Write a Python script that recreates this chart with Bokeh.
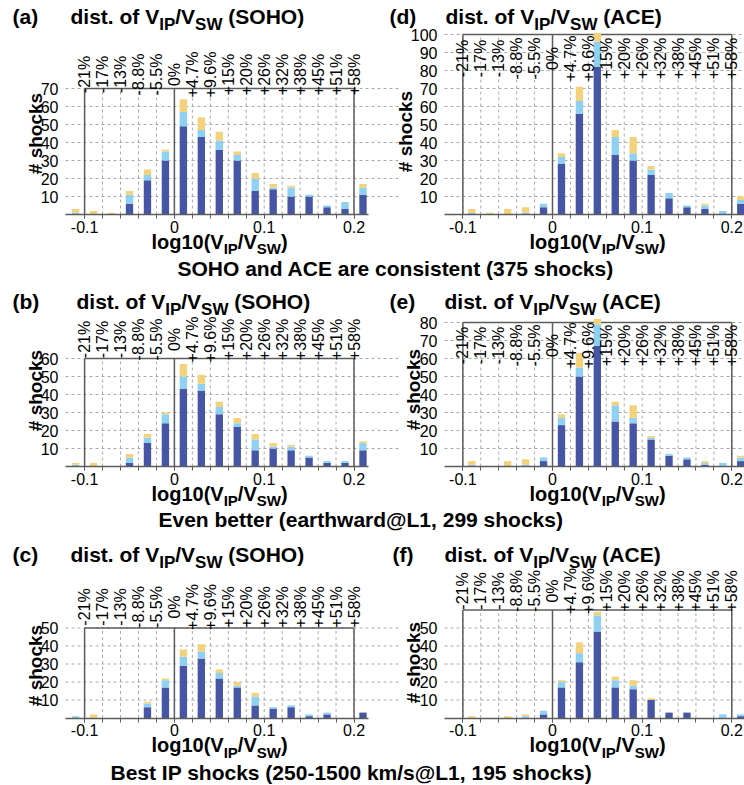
import math
from bokeh.plotting import figure
from bokeh.models import (ColumnDataSource, Range1d, FixedTicker, Label, LabelSet,
                          LinearAxis)
from bokeh.core.properties import value
from bokeh.embed import file_html
from bokeh.resources import INLINE

# ---------------- data ----------------
bin_centers = [-0.11, -0.09, -0.07, -0.05, -0.03, -0.01, 0.01, 0.03, 0.05,
               0.07, 0.09, 0.11, 0.13, 0.15, 0.17, 0.19, 0.21]

pct_positions = [-0.1, -0.08, -0.06, -0.04, -0.02, 0.0, 0.02, 0.04, 0.06,
                 0.08, 0.1, 0.12, 0.14, 0.16, 0.18, 0.2]
pct_labels = ["-21%", "-17%", "-13%", "-8.8%", "-5.5%", "0%", "+4.7%", "+9.6%",
              "+15%", "+20%", "+26%", "+32%", "+38%", "+45%", "+51%", "+58%"]

x_tick_values = [-0.1, 0.0, 0.1, 0.2]
x_tick_labels = ["-0.1", "0", "0.1", "0.2"]
box_edges = [-0.1, 0.0, 0.2]

# (a) SOHO, 375 shocks
dark_a = [0, 0, 0, 6, 19, 30, 49, 43, 36, 30, 13, 14, 10, 10, 4, 3, 11]
light_a = [1, 0, 0, 5, 3, 5, 8, 4, 5, 3, 7, 1, 5, 1, 1, 4, 4]
yellow_a = [2, 2, 1, 2, 3, 1, 7, 7, 5, 2, 3, 2, 1, 0, 0, 0, 2]
# (d) ACE, 375 shocks
dark_d = [0, 0, 0, 0, 0, 4, 28, 56, 82, 33, 30, 22, 9, 4, 3, 0, 6]
light_d = [0, 1, 0, 0, 1, 2, 4, 7, 14, 10, 4, 3, 3, 1, 2, 2, 2]
yellow_d = [0, 2, 1, 3, 3, 0, 2, 8, 5, 4, 9, 2, 0, 0, 1, 0, 2]
# (b) SOHO, 299 shocks
dark_b = [0, 0, 0, 2, 13, 24, 43, 42, 29, 22, 9, 10, 9, 5, 2, 2, 9]
light_b = [1, 0, 0, 3, 3, 5, 7, 4, 4, 2, 6, 1, 2, 1, 1, 1, 4]
yellow_b = [1, 2, 0, 2, 2, 1, 7, 5, 3, 3, 3, 2, 1, 0, 0, 0, 1]
# (e) ACE, 299 shocks
dark_e = [0, 0, 0, 0, 0, 3, 23, 50, 67, 25, 24, 15, 6, 4, 1, 0, 3]
light_e = [0, 1, 0, 0, 1, 2, 4, 5, 12, 9, 3, 1, 1, 1, 1, 2, 2]
yellow_e = [0, 2, 0, 3, 3, 0, 2, 8, 3, 2, 7, 1, 0, 0, 1, 0, 1]
# (c) SOHO, 195 shocks
dark_c = [0, 0, 0, 0, 6, 17, 29, 33, 22, 17, 7, 5, 6, 1, 2, 0, 3]
light_c = [1, 0, 0, 0, 2, 4, 5, 4, 3, 1, 5, 1, 1, 1, 1, 0, 0]
yellow_c = [0, 2, 0, 0, 1, 1, 4, 4, 2, 2, 2, 0, 0, 0, 0, 0, 0]
# (f) ACE, 195 shocks
dark_f = [0, 0, 0, 0, 0, 2, 17, 31, 48, 17, 16, 10, 3, 3, 0, 0, 1]
light_f = [0, 0, 0, 0, 1, 2, 3, 5, 9, 4, 2, 0, 0, 0, 0, 2, 1]
yellow_f = [0, 1, 0, 1, 1, 0, 1, 6, 2, 2, 3, 1, 0, 0, 0, 0, 0]

y_ticks_a = [10, 20, 30, 40, 50, 60, 70]
y_ticks_b = [10, 20, 30, 40, 50, 60]
y_ticks_c = [10, 20, 30, 40, 50]
y_ticks_d = [10, 20, 30, 40, 50, 60, 70, 80, 90, 100]
y_ticks_e = [10, 20, 30, 40, 50, 60, 70, 80]
y_ticks_f = [10, 20, 30, 40, 50]
box_tops = {"a": 70, "b": 60, "c": 50, "d": 100, "e": 80, "f": 60}

section_texts = ["SOHO and ACE are consistent (375 shocks)",
                 "Even better (earthward@L1, 299 shocks)",
                 "Best IP shocks (250-1500 km/s@L1, 195 shocks)"]

# ---------------- style / layout ----------------
FONT = "Liberation Sans"
C_DARK = "#4656a5"
C_LIGHT = "#8ed1f3"
C_YELLOW = "#f3d27b"
C_FRAME = "#5c5c5c"
C_GRID = "#a9a9a9"
W, H = 744, 785
PX_PER_COUNT = 1.8
BASELINE_FIX = 0.38   # Bokeh draws "alphabetic" text a bit low; lift by this many em

# advance widths of Liberation Sans Bold (per 1000 em)
BOLD_W = {" ": 278, "(": 333, ")": 333, ".": 278, "/": 278, "0": 556, "1": 556,
          "A": 722, "C": 722, "E": 667, "H": 722, "I": 278, "O": 778, "P": 667,
          "S": 667, "V": 667, "W": 944, "d": 611, "f": 333, "g": 611, "i": 278,
          "l": 278, "o": 611, "s": 556, "t": 333}


def text_width(s, size):
    return sum(BOLD_W.get(ch, 556) for ch in s) * size / 1000.0


p = figure(width=W, height=H, x_range=Range1d(0, W), y_range=Range1d(H, 0),
           x_axis_type=None, y_axis_type=None, min_border=0, title=None,
           toolbar_location=None, output_backend="svg")
p.outline_line_color = None
p.background_fill_color = "white"
p.border_fill_color = "white"


def page_label(x, y, text, size, angle=0.0, align="left", baseline="alphabetic"):
    if baseline == "alphabetic":
        y -= BASELINE_FIX * size
    p.add_layout(Label(x=x, y=y, text=text, text_font=FONT, text_font_size=f"{size}px",
                       text_font_style="bold", text_color="black",
                       angle=angle, text_align=align, text_baseline=baseline))


def rich(pieces, x, y):
    """Run of bold text pieces (text, size, drop) starting at page x, baseline y."""
    for text, size, drop in pieces:
        stripped = text.lstrip(" ")
        x += text_width(text[:len(text) - len(stripped)], size)
        page_label(x, y + drop, stripped, size)
        x += text_width(stripped, size)


# column geometry in page pixels: zero of the x data, px per unit, frame edges
COLS = {"left": dict(zx=173.9, kx=898.0, fl=65, fr=368, grid_r=398, ax_c=219),
        "right": dict(zx=552.0, kx=896.5, fl=444, fr=744, grid_r=744, ax_c=597)}
# row geometry: page y of count zero, title baseline
ROWS = [dict(zy=214.0, title_y=24), dict(zy=466.0, title_y=309), dict(zy=717.5, title_y=562)]


def panel(letter, name, dark, light, yellow, y_ticks, col, row_i, pct_dy,
          letter_x, title_x, shocks_x, shocks_y):
    c = COLS[col]
    r = ROWS[row_i]
    xr, yr = "x" + letter, "y" + letter
    p.extra_x_ranges[xr] = Range1d(-c["zx"] / c["kx"], (W - c["zx"]) / c["kx"])
    p.extra_y_ranges[yr] = Range1d(-(H - r["zy"]) / PX_PER_COUNT, r["zy"] / PX_PER_COUNT)
    x_lo = (c["fl"] - c["zx"]) / c["kx"]
    x_hi = (c["fr"] - c["zx"]) / c["kx"]
    x_grid_hi = (c["grid_r"] - c["zx"]) / c["kx"]
    top = box_tops[letter]
    kw = dict(x_range_name=xr, y_range_name=yr)

    # horizontal dashed grid lines at the count ticks
    p.segment(x0=x_lo, y0=y_ticks, x1=x_grid_hi, y1=y_ticks,
              line_color=C_GRID, line_dash="3 3", line_width=1, **kw)
    # vertical dashed grid lines inside the box
    p.segment(x0=pct_positions, y0=0, x1=pct_positions, y1=top,
              line_color=C_GRID, line_dash="3 3", line_width=1, **kw)
    # solid box
    p.segment(x0=box_edges, y0=0, x1=box_edges, y1=top,
              line_color=C_FRAME, line_width=1.5, **kw)
    p.segment(x0=box_edges[0], y0=top, x1=box_edges[-1], y1=top,
              line_color=C_FRAME, line_width=1.5, **kw)

    # stacked bars
    src = ColumnDataSource(dict(x=bin_centers, dark=dark, light=light, yellow=yellow))
    p.vbar_stack(["dark", "light", "yellow"], x="x", width=0.0082, source=src,
                 color=[C_DARK, C_LIGHT, C_YELLOW], line_color=None, **kw)

    # x axis on the zero line
    xa = LinearAxis(fixed_location=0, bounds=(x_lo, x_hi),
                    ticker=FixedTicker(ticks=x_tick_values, minor_ticks=pct_positions),
                    major_label_overrides=dict(zip(x_tick_values, x_tick_labels)), **kw)
    xa.axis_line_color = C_FRAME
    xa.axis_line_width = 1.5
    xa.major_tick_line_color = C_FRAME
    xa.minor_tick_line_color = C_FRAME
    xa.major_tick_out = 4
    xa.major_tick_in = 0
    xa.minor_tick_out = 4
    xa.minor_tick_in = 0
    xa.major_label_standoff = 2
    xa.major_label_text_font = FONT
    xa.major_label_text_font_size = "16px"
    xa.major_label_text_color = "black"
    p.add_layout(xa, "below")

    # y axis at the left edge of the panel frame
    ya = LinearAxis(fixed_location=x_lo, ticker=FixedTicker(ticks=y_ticks), **kw)
    ya.axis_line_color = None
    ya.major_tick_line_color = None
    ya.minor_tick_line_color = None
    ya.major_label_standoff = 1
    ya.major_label_text_font = FONT
    ya.major_label_text_font_size = "16px"
    ya.major_label_text_color = "black"
    p.add_layout(ya, "left")

    # percentage labels near the top (centred on a common height)
    psrc = ColumnDataSource(dict(x=pct_positions, text=pct_labels))
    p.add_layout(LabelSet(x="x", y=0, text="text", source=psrc, y_offset=pct_dy,
                          angle=math.pi / 2, text_align="center", text_baseline="middle",
                          text_font=value(FONT), text_font_size=value("16px"),
                          text_color="black", **kw))

    # y axis title
    page_label(shocks_x, shocks_y, "# shocks", 19, angle=math.pi / 2,
               align="center", baseline="middle")

    # panel title with subscripts
    ty = r["title_y"]
    page_label(letter_x, ty, f"({letter})", 21)
    rich([("dist. of V", 21, 0), ("IP", 17, 6), ("/V", 21, 0), ("SW", 17, 6),
          (f" ({name})", 21, 0)], title_x, ty)

    # x axis title with subscripts, centred under the frame
    pieces = [("log10(V", 20, 0), ("IP", 15, 5), ("/V", 20, 0), ("SW", 15, 5), (")", 20, 0)]
    total = sum(text_width(t, s) for t, s, _ in pieces)
    rich(pieces, c["ax_c"] - total / 2, r["zy"] + 35)


panel("a", "SOHO", dark_a, light_a, yellow_a, y_ticks_a, "left", 0, 140, 12, 70, 35, 133)
panel("d", "ACE", dark_d, light_d, yellow_d, y_ticks_d, "right", 0, 156, 389, 445, 405, 131)
panel("b", "SOHO", dark_b, light_b, yellow_b, y_ticks_b, "left", 1, 127, 12, 76, 35, 390)
panel("e", "ACE", dark_e, light_e, yellow_e, y_ticks_e, "right", 1, 121, 389, 444, 413, 389)
panel("c", "SOHO", dark_c, light_c, yellow_c, y_ticks_c, "left", 2, 111, 12, 70, 35, 665)
panel("f", "ACE", dark_f, light_f, yellow_f, y_ticks_f, "right", 2, 127, 392, 444, 413, 662)

# section captions between the rows
page_label(177, 276, section_texts[0], 21)
page_label(158, 527, section_texts[1], 21)
page_label(110, 780, section_texts[2], 21)

open("out.html", "w").write(file_html(p, INLINE))
